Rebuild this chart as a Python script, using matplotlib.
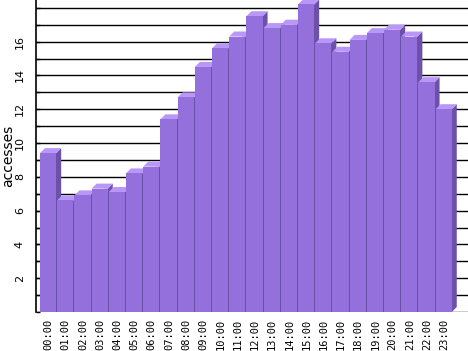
import matplotlib
matplotlib.use("Agg")
import matplotlib.pyplot as plt
from matplotlib.patches import Polygon

hours = ["%02d:00" % h for h in range(24)]
accesses = [9.4, 6.6, 6.9, 7.3, 7.1, 8.2, 8.6, 11.4, 12.7, 14.5, 15.6, 16.3,
            17.5, 16.8, 17.0, 18.2, 15.9, 15.4, 16.1, 16.5, 16.7, 16.3, 13.6, 12.0]

FRONT = "#9370DB"
TOP = "#B996F8"
SIDE = "#6B52A8"

W, H = 468, 351
fig = plt.figure(figsize=(W / 100, H / 100), dpi=100)
ax_left, ax_bottom, ax_right, ax_top = 36, 312, 468, 0
ax = fig.add_axes([ax_left / W, (H - ax_bottom) / H, (ax_right - ax_left) / W, (ax_bottom - ax_top) / H])

px_x = 17.2   # pixels per category
px_y = 16.9   # pixels per unit
x0 = -0.5 - 4 / px_x
ax.set_xlim(x0, x0 + (ax_right - ax_left) / px_x)
ax.set_ylim(0, (ax_bottom - ax_top) / px_y)

dx = 5 / px_x
dy = 5 / px_y
bw = 0.94
n = len(accesses)
for i, v in enumerate(accesses):
    xl = i - 0.5
    xr = xl + bw
    z = 3 + i * 3
    if i < n - 1:
        side = [(xr - 0.2, 0), (xr + dx, 0), (xr + dx, v + dy), (xr, v), (xr - 0.2, v)]
    else:
        side = [(xr, 0), (xr + dx, dy), (xr + dx, v + dy), (xr, v)]
    ax.add_patch(Polygon(side, closed=True, facecolor=SIDE, edgecolor="none", zorder=z, clip_on=False))
    ax.add_patch(Polygon([(xl, v), (xl + dx, v + dy), (xr + dx, v + dy), (xr, v)],
                         closed=True, facecolor=TOP, edgecolor="none", zorder=z + 1, clip_on=False))
    ax.bar(i - 0.5, v, width=bw, align="edge", color=FRONT, edgecolor="none", zorder=z + 2)

ax.set_yticks(range(2, 18, 2))
ax.set_yticks(range(0, 19), minor=True)
ax.grid(True, which="both", axis="y", color="black", linewidth=1.0, zorder=0)
ax.set_axisbelow(True)
ax.tick_params(axis="y", which="both", direction="in", length=3, width=1.0, pad=8,
               labelsize=8, labelrotation=90)
for t in ax.get_yticklabels():
    t.set_va("center")

ax.set_xticks(range(24))
ax.set_xticklabels(hours, rotation=90, fontsize=7.5, family="DejaVu Sans Mono")
ax.tick_params(axis="x", length=0, pad=5)

for s in ["top", "right", "bottom"]:
    ax.spines[s].set_visible(False)
ax.spines["left"].set_linewidth(1.2)
ax.spines["left"].set_zorder(200)

fig.text(8 / W, 1 - 156 / H, "accesses", rotation=90, ha="center", va="center", fontsize=10)

fig.savefig("out.png", dpi=100)
